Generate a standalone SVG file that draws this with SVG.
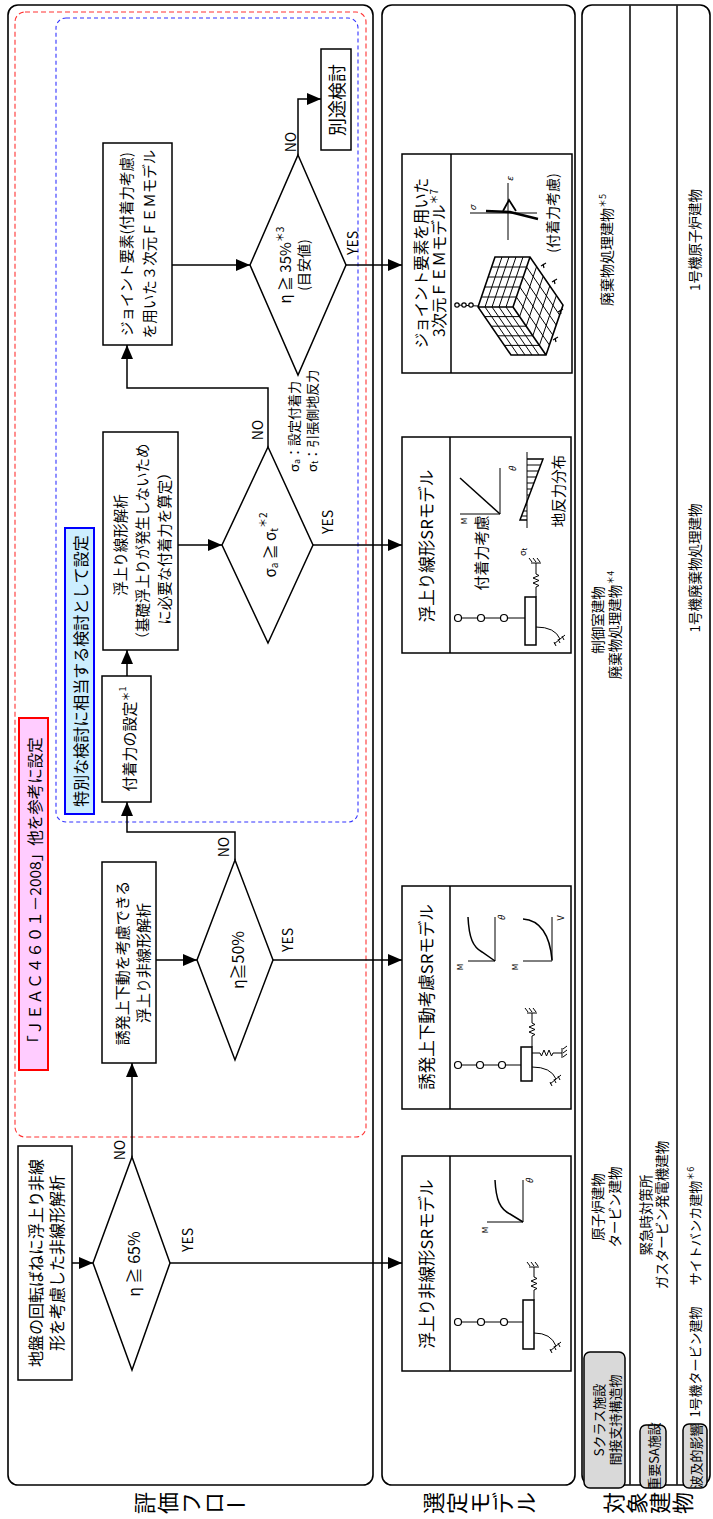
<svg xmlns="http://www.w3.org/2000/svg" width="713" height="1519" viewBox="0 0 713 1519">
<style>
.t{font-family:"Noto Sans CJK JP","Noto Sans",sans-serif;fill:#000;text-anchor:middle;dominant-baseline:central}
.box{fill:#fff;stroke:#000;stroke-width:1.5}
.row{fill:#fff;stroke:#000;stroke-width:1.6}
.ln{fill:none;stroke:#000;stroke-width:1.5}
.thin{fill:none;stroke:#000;stroke-width:1}
.pill{fill:#d9d9d9;stroke:#000;stroke-width:1.5}
.circ{fill:#fff;stroke:#000;stroke-width:1.2}
</style>
<defs>
<marker id="ah" viewBox="0 0 14 12" refX="14" refY="6" markerWidth="14" markerHeight="12" markerUnits="userSpaceOnUse" orient="auto"><path d="M0,0 L14,6 L0,12 z" fill="#000"/></marker>
</defs>
<rect width="713" height="1519" fill="#fff"/>

<!-- Row frames -->
<g id="row-flow"><rect class="row" x="8" y="5" width="365" height="1480" rx="10"/></g>
<g id="row-model"><rect class="row" x="382" y="5" width="193" height="1480" rx="10"/></g>
<g id="row-target">
<rect class="row" x="582" y="5" width="128" height="1480" rx="10"/>
<line class="ln" x1="630" y1="5.5" x2="630" y2="1484.5"/>
<line class="ln" x1="677" y1="5.5" x2="677" y2="1484.5"/>
</g>

<!-- dashed regions -->
<g id="region-jeac">
<rect x="15" y="12" width="351" height="1125" rx="10" fill="none" stroke="#ff3333" stroke-width="1.1" stroke-dasharray="5,3"/>
<rect x="19" y="718" width="29" height="352" fill="#ffccff" stroke="#ff0000" stroke-width="2"/>
<text class="t" font-size="15.5" transform="translate(34 894) rotate(-90)">「ＪＥＡＣ４６０１－2008」他を参考に設定</text>
</g>
<g id="region-special">
<rect x="56" y="18" width="302" height="804" rx="10" fill="none" stroke="#3333ff" stroke-width="1.1" stroke-dasharray="4,3"/>
<rect x="65" y="528" width="29" height="286" fill="#cceeff" stroke="#0000ff" stroke-width="2"/>
<text class="t" font-size="16" transform="translate(80 671) rotate(-90)">特別な検討に相当する検討として設定</text>
</g>

<!-- Connectors -->
<g id="connectors">
<path class="ln" d="M72,1263 H93" marker-end="url(#ah)"/>
<path class="ln" d="M132,1157 V1063" marker-end="url(#ah)"/>
<path class="ln" d="M170,1263 H402" marker-end="url(#ah)"/>
<path class="ln" d="M156,960 H197" marker-end="url(#ah)"/>
<path class="ln" d="M235,860 V832 H127 V802" marker-end="url(#ah)"/>
<path class="ln" d="M273,960 H402" marker-end="url(#ah)"/>
<path class="ln" d="M127,676 V650" marker-end="url(#ah)"/>
<path class="ln" d="M178,545 H222" marker-end="url(#ah)"/>
<path class="ln" d="M268,447 V388 H127 V345" marker-end="url(#ah)"/>
<path class="ln" d="M313,545 H402" marker-end="url(#ah)"/>
<path class="ln" d="M172,265 H250" marker-end="url(#ah)"/>
<path class="ln" d="M298,155 V99 H321" marker-end="url(#ah)"/>
<path class="ln" d="M346,265 H402" marker-end="url(#ah)"/>
<text class="t" font-size="14" transform="translate(119 1150) rotate(-90)">NO</text>
<text class="t" font-size="14" transform="translate(187 1240) rotate(-90)">YES</text>
<text class="t" font-size="14" transform="translate(223 847) rotate(-90)">NO</text>
<text class="t" font-size="14" transform="translate(287 940) rotate(-90)">YES</text>
<text class="t" font-size="14" transform="translate(257 430) rotate(-90)">NO</text>
<text class="t" font-size="14" transform="translate(327 522) rotate(-90)">YES</text>
<text class="t" font-size="14" transform="translate(290 142) rotate(-90)">NO</text>
<text class="t" font-size="14" transform="translate(352 243) rotate(-90)">YES</text>
</g>

<!-- Flow nodes -->
<g id="n-start">
<rect class="box" x="18" y="1146" width="54" height="234"/>
<text class="t" font-size="16" transform="translate(35 1263) rotate(-90)">地盤の回転ばねに浮上り非線</text>
<text class="t" font-size="16" transform="translate(56 1263) rotate(-90)">形を考慮した非線形解析</text>
</g>
<g id="n-d65">
<polygon class="box" points="132,1157 170,1263 132,1370 93,1263"/>
<text class="t" font-size="16" transform="translate(133 1264) rotate(-90)">η ≧ 65%</text>
</g>
<g id="n-induced">
<rect class="box" x="102" y="862" width="54" height="201"/>
<text class="t" font-size="15" transform="translate(121 963) rotate(-90)">誘発上下動を考慮できる</text>
<text class="t" font-size="15" transform="translate(142 963) rotate(-90)">浮上り非線形解析</text>
</g>
<g id="n-d50">
<polygon class="box" points="235,860 273,960 235,1060 197,960"/>
<text class="t" font-size="16" transform="translate(237 960) rotate(-90)">η≧50%</text>
</g>
<g id="n-adhesion">
<rect class="box" x="102" y="676" width="49" height="126"/>
<text class="t" font-size="15" transform="translate(128 739) rotate(-90)">付着力の設定<tspan font-size="10" dy="-3">＊</tspan><tspan font-size="9" dy="-3">1</tspan></text>
</g>
<g id="n-linear">
<rect class="box" x="103" y="432" width="75" height="218"/>
<text class="t" font-size="14.5" transform="translate(119 545) rotate(-90)">浮上り線形解析</text>
<text class="t" font-size="14.5" transform="translate(141 545) rotate(-90)">（基礎浮上りが発生しないため</text>
<text class="t" font-size="14.5" transform="translate(163 545) rotate(-90)">に必要な付着力を算定）</text>
</g>
<g id="n-dsigma">
<polygon class="box" points="268,447 313,545 268,643 222,545"/>
<text class="t" font-size="15" transform="translate(269 545) rotate(-90)">σ<tspan font-size="10" dy="4">a</tspan><tspan dy="-4"> ≧ σ</tspan><tspan font-size="10" dy="4">t</tspan><tspan font-size="10" dy="-11">＊2</tspan></text>
</g>
<g id="n-legend">
<text class="t" font-size="13" style="text-anchor:start" transform="translate(293 472) rotate(-90)">σ<tspan font-size="9" dy="3">a</tspan><tspan dy="-3">：設定付着力</tspan></text>
<text class="t" font-size="13" style="text-anchor:start" transform="translate(311 472) rotate(-90)">σ<tspan font-size="9" dy="3">t</tspan><tspan dy="-3">：引張側地反力</tspan></text>
</g>
<g id="n-joint">
<rect class="box" x="103" y="143" width="69" height="202"/>
<text class="t" font-size="14.5" transform="translate(125 244) rotate(-90)">ジョイント要素(付着力考慮)</text>
<text class="t" font-size="14.5" transform="translate(148 244) rotate(-90)">を用いた３次元ＦＥＭモデル</text>
</g>
<g id="n-d35">
<polygon class="box" points="298,155 346,265 298,375 250,265"/>
<text class="t" font-size="15" transform="translate(284 265) rotate(-90)">η ≧ 35%<tspan font-size="10" dy="-5">＊3</tspan></text>
<text class="t" font-size="14" transform="translate(303 265) rotate(-90)">(目安値)</text>
</g>
<g id="n-other">
<rect class="box" x="321" y="49" width="30" height="101"/>
<text class="t" font-size="18" transform="translate(336 100) rotate(-90)">別途検討</text>
</g>

<!-- Model 1 -->
<g id="m1">
<rect class="box" x="402" y="1156" width="169" height="215"/>
<line class="ln" x1="450" y1="1156" x2="450" y2="1371"/>
<text class="t" font-size="16.5" transform="translate(426 1264) rotate(-90)">浮上り非線形SRモデル</text>
<line class="thin" x1="458" y1="1322" x2="523" y2="1322"/>
<circle class="circ" cx="458" cy="1322" r="3.5"/><circle class="circ" cx="481" cy="1322" r="3.5"/><circle class="circ" cx="504" cy="1322" r="3.5"/>
<rect class="box" x="523" y="1300" width="11" height="49" stroke-width="1.2"/>
<path class="thin" d="M534,1300 V1290 l3,-1.5 l-6,-2.5 l6,-2.5 l-6,-2.5 l6,-2.5 l-3,-1.5 V1267 M529,1267 H539 M530,1266 l-3,-4 M534,1266 l-3,-4 M538,1266 l-3,-4"/>
<path class="thin" d="M534,1333 Q551,1333 556,1346 M550,1351 L561,1342 M552,1353 l-2,-4 M556,1350 l-2,-4 M560,1347 l-2,-4"/>
<path class="thin" d="M523,1180 V1222 H487"/>
<path class="ln" d="M495,1180 C496,1200 500,1209 510,1214 L523,1222"/>
<text class="t" font-size="9" font-style="italic" transform="translate(529 1181) rotate(-90)">θ</text>
<text class="t" font-size="8" transform="translate(484 1230) rotate(-90)">M</text>
</g>

<!-- Model 2 -->
<g id="m2">
<rect class="box" x="402" y="886" width="169" height="223"/>
<line class="ln" x1="450" y1="886" x2="450" y2="1109"/>
<text class="t" font-size="16.5" transform="translate(426 997) rotate(-90)">誘発上下動考慮SRモデル</text>
<line class="thin" x1="458" y1="1065" x2="521" y2="1065"/>
<circle class="circ" cx="458" cy="1065" r="3.5"/><circle class="circ" cx="480" cy="1065" r="3.5"/><circle class="circ" cx="502" cy="1065" r="3.5"/>
<rect class="box" x="521" y="1047" width="11" height="34" stroke-width="1.2"/>
<path class="thin" d="M532,1047 V1036 l3,-1.5 l-6,-2.5 l6,-2.5 l-6,-2.5 l6,-2.5 l-3,-1.5 V1013 M527,1013 H537 M528,1012 l-3,-4 M532,1012 l-3,-4 M536,1012 l-3,-4"/>
<path class="thin" d="M532,1053 H540 l1.5,3 l2.5,-6 l2.5,6 l2.5,-6 l2.5,6 l1.5,-3 H562 M562,1048 V1058 M563,1049 l4,-3 M563,1053 l4,-3 M563,1057 l4,-3"/>
<path class="thin" d="M532,1067 Q551,1067 556,1079 M550,1084 L561,1075 M552,1086 l-2,-4 M556,1083 l-2,-4 M560,1080 l-2,-4"/>
<path class="thin" d="M495,917 V961 H468"/>
<path class="ln" d="M468,917 C469,938 473,947 482,952 L495,961"/>
<text class="t" font-size="9" font-style="italic" transform="translate(501 918) rotate(-90)">θ</text>
<text class="t" font-size="8" transform="translate(459 967) rotate(-90)">M</text>
<path class="thin" d="M552,917 V961 H523"/>
<path class="ln" d="M523,919 C540,920 550,935 552,960"/>
<text class="t" font-size="9" transform="translate(560 918) rotate(-90)">V</text>
<text class="t" font-size="8" transform="translate(514 967) rotate(-90)">M</text>
</g>

<!-- Model 3 -->
<g id="m3">
<rect class="box" x="402" y="437" width="169" height="216"/>
<line class="ln" x1="450" y1="437" x2="450" y2="653"/>
<text class="t" font-size="16.5" transform="translate(426 546) rotate(-90)">浮上り線形SRモデル</text>
<line class="thin" x1="458" y1="618" x2="525" y2="618"/>
<circle class="circ" cx="458" cy="618" r="3.5"/><circle class="circ" cx="481" cy="618" r="3.5"/><circle class="circ" cx="504" cy="618" r="3.5"/>
<rect class="box" x="525" y="597" width="11" height="48" stroke-width="1.2"/>
<path class="thin" d="M536,597 V587 l3,-1.5 l-6,-2.5 l6,-2.5 l-6,-2.5 l6,-2.5 l-3,-1.5 V563 M531,563 H541 M532,562 l-3,-4 M536,562 l-3,-4 M540,562 l-3,-4"/>
<path class="thin" d="M536,627 Q555,627 560,639 M554,644 L565,635 M556,646 l-2,-4 M560,643 l-2,-4 M564,640 l-2,-4"/>
<text class="t" font-size="15" transform="translate(480 553) rotate(-90)">付着力考慮</text>
<text class="t" font-size="9" transform="translate(522 552) rotate(-90)">σ<tspan font-size="7" dy="2">t</tspan></text>
<path class="thin" d="M500,468 V514 H460"/>
<path class="ln" d="M460,478 L500,514"/>
<text class="t" font-size="9" font-style="italic" transform="translate(512 469) rotate(-90)">θ</text>
<text class="t" font-size="8" transform="translate(463 521) rotate(-90)">M</text>
<path class="thin" d="M527,452 V528"/>
<path class="ln" d="M527,459 H543 L520,520 H527"/>
<path class="thin" d="M527,465 H541 M527,471 H539 M527,477 H536 M527,483 H534 M527,489 H532 M527,495 H529 M527,505 H525 M527,511 H523 M527,516 H521"/>
<text class="t" font-size="14.5" transform="translate(557 491) rotate(-90)">地反力分布</text>
</g>

<!-- Model 4 -->
<g id="m4">
<rect class="box" x="402" y="154" width="170" height="219"/>
<line class="ln" x1="451" y1="154" x2="451" y2="373"/>
<text class="t" font-size="15.5" transform="translate(420 263) rotate(-90)">ジョイント要素を用いた</text>
<text class="t" font-size="15.5" transform="translate(438 263) rotate(-90)">3次元ＦＥＭモデル<tspan font-size="10" dy="-5">＊7</tspan></text>
<path fill="#fff" stroke="none" d="M478,307 L495,257 L530,257 L563,305 L546,355 L511,355 z"/>
<path fill="none" stroke="#000" stroke-width="1" d="M481.4,297 H516.4 M484.8,287 H519.8 M488.2,277 H523.2 M491.6,267 H526.6 M485,307 L502,257 M492,307 L509,257 M499,307 L516,257 M506,307 L523,257 M519.6,316.6 L536.6,266.6 M526.2,326.2 L543.2,276.2 M532.8,335.8 L549.8,285.8 M539.4,345.4 L556.4,295.4 M516.4,297 L549.4,345 M519.8,287 L552.8,335 M523.2,277 L556.2,325 M526.6,267 L559.6,315 M484.6,316.6 H519.6 M491.2,326.2 H526.2 M497.8,335.8 H532.8 M504.4,345.4 H539.4 M485,307 L518,355 M492,307 L525,355 M499,307 L532,355 M506,307 L539,355"/>
<path fill="none" stroke="#000" stroke-width="1.6" d="M478,307 L495,257 L530,257 L563,305 L546,355 L511,355 z M478,307 H513 L530,257 M513,307 L546,355"/>
<line class="thin" x1="457" y1="305" x2="478" y2="306"/>
<circle class="circ" cx="457" cy="305" r="2.2"/><circle class="circ" cx="464" cy="305" r="2.2"/><circle class="circ" cx="471" cy="305" r="2.2"/>
<path fill="none" stroke="#000" stroke-width="1.2" d="M541,266 l5,-3 M543,264 l1,4 M552,282 l5,-3 M554,280 l1,4 M558,312 l5,-3 M560,310 l1,4 M553,340 l5,-3 M555,338 l1,4"/>
<path class="thin" d="M508,183 V240 M470,213 H537"/>
<path fill="none" stroke="#000" stroke-width="2.4" d="M486,211 L510,212 L538,219"/>
<path fill="none" stroke="#000" stroke-width="1.8" d="M503,211 L509,200 L516,211"/>
<text class="t" font-size="9" font-style="italic" transform="translate(472 208) rotate(-90)">σ</text>
<text class="t" font-size="9" font-style="italic" transform="translate(509 179) rotate(-90)">ε</text>
<text class="t" font-size="14" transform="translate(552 213) rotate(-90)">(付着力考慮)</text>
</g>

<!-- Target buildings -->
<g id="t-labels">
<rect class="pill" x="584" y="1352" width="41" height="136" rx="6"/>
<text class="t" font-size="13" transform="translate(598 1420) rotate(-90)">Sクラス施設</text>
<text class="t" font-size="13" transform="translate(614 1420) rotate(-90)">間接支持構造物</text>
<rect class="pill" x="640" y="1425" width="26" height="63" rx="6"/>
<text class="t" font-size="13" transform="translate(653 1456) rotate(-90)">重要SA施設</text>
<rect class="pill" x="683" y="1424" width="24" height="64" rx="6"/>
<text class="t" font-size="13" transform="translate(695 1456) rotate(-90)">波及的影響</text>
</g>
<g id="t-texts">
<text class="t" font-size="13.5" transform="translate(597 1207) rotate(-90)">原子炉建物</text>
<text class="t" font-size="13.5" transform="translate(614 1207) rotate(-90)">タービン建物</text>
<text class="t" font-size="13.5" transform="translate(645 1215) rotate(-90)">緊急時対策所</text>
<text class="t" font-size="13.5" transform="translate(661 1215) rotate(-90)">ガスタービン発電機建物</text>
<text class="t" font-size="13" transform="translate(694 1362) rotate(-90)">1号機タービン建物</text>
<text class="t" font-size="13" transform="translate(694 1226) rotate(-90)">サイトバンカ建物<tspan font-size="9" dy="-4">＊6</tspan></text>
<text class="t" font-size="13.5" transform="translate(597 620) rotate(-90)">制御室建物</text>
<text class="t" font-size="13.5" transform="translate(614 625) rotate(-90)">廃棄物処理建物<tspan font-size="9" dy="-4">＊4</tspan></text>
<text class="t" font-size="13.5" transform="translate(694 568) rotate(-90)">1号機廃棄物処理建物</text>
<text class="t" font-size="14" transform="translate(606 250) rotate(-90)">廃棄物処理建物<tspan font-size="9" dy="-4">＊5</tspan></text>
<text class="t" font-size="13.5" transform="translate(694 240) rotate(-90)">1号機原子炉建物</text>
</g>

<!-- Row titles -->
<g id="row-titles">
<text class="t" font-size="22" transform="translate(143 1503) rotate(-90)">評</text>
<text class="t" font-size="22" transform="translate(166 1503) rotate(-90)">価</text>
<text class="t" font-size="22" transform="translate(189 1503) rotate(-90)">フ</text>
<text class="t" font-size="22" transform="translate(212 1503) rotate(-90)">ロ</text>
<text class="t" font-size="22" transform="translate(236 1503)">ー</text>
<text class="t" font-size="22" transform="translate(432 1503) rotate(-90)">選</text>
<text class="t" font-size="22" transform="translate(455 1503) rotate(-90)">定</text>
<text class="t" font-size="22" transform="translate(478 1503) rotate(-90)">モ</text>
<text class="t" font-size="22" transform="translate(501 1503) rotate(-90)">デ</text>
<text class="t" font-size="22" transform="translate(524 1503) rotate(-90)">ル</text>
<text class="t" font-size="22" transform="translate(612 1503) rotate(-90)">対</text>
<text class="t" font-size="22" transform="translate(635 1503) rotate(-90)">象</text>
<text class="t" font-size="22" transform="translate(658 1503) rotate(-90)">建</text>
<text class="t" font-size="22" transform="translate(681 1503) rotate(-90)">物</text>
</g>
</svg>
